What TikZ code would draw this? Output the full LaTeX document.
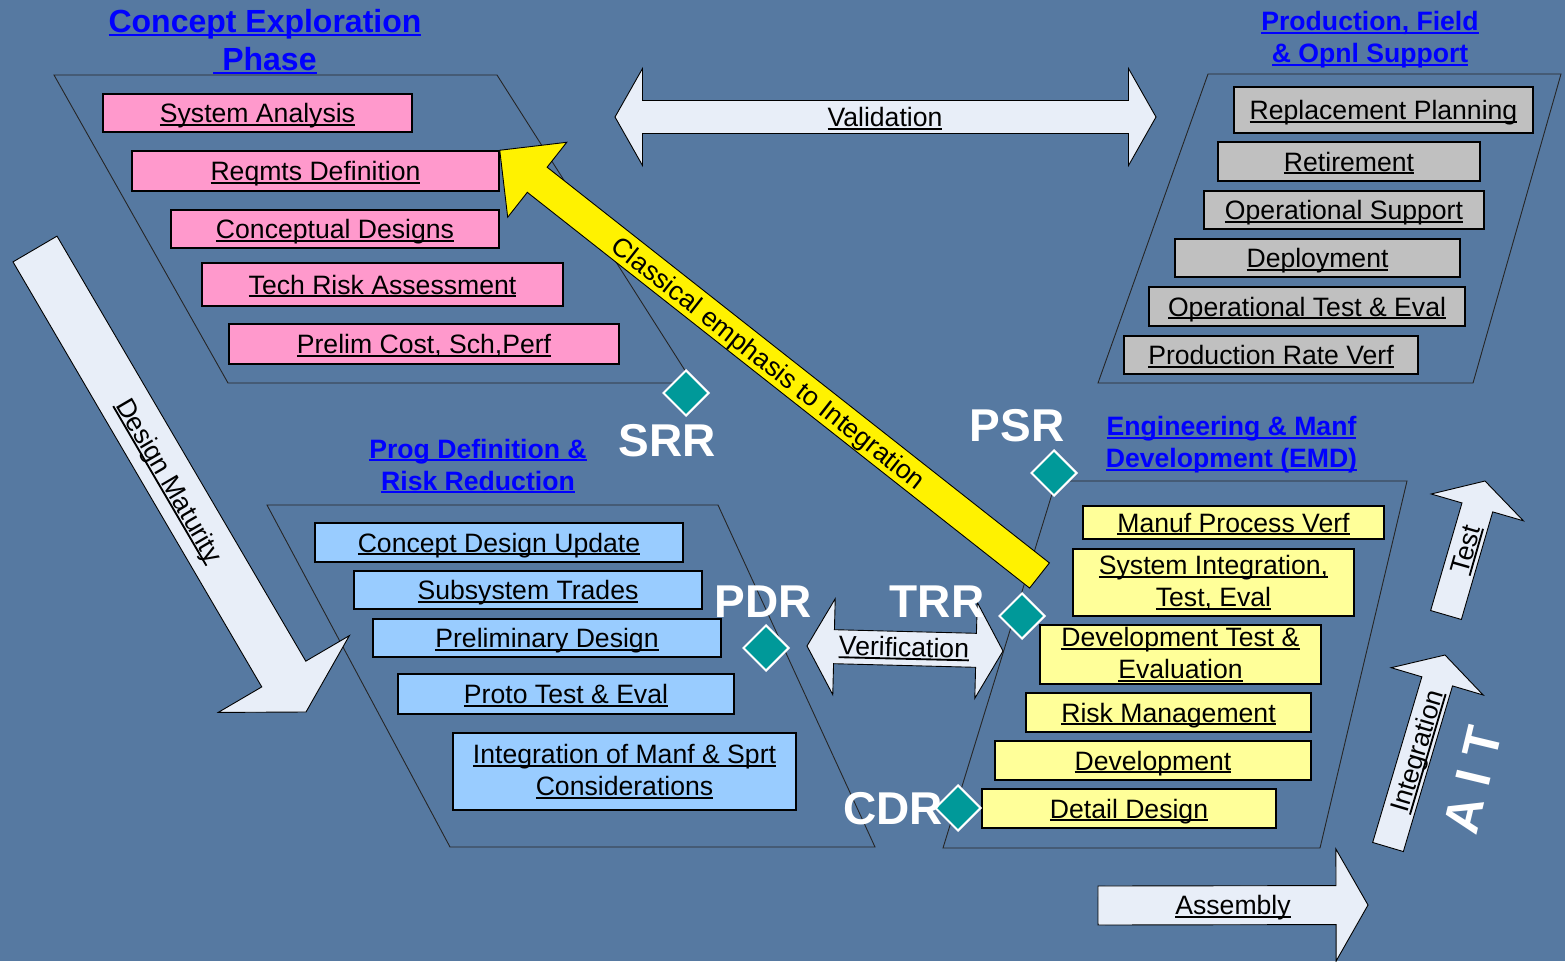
\documentclass[tikz,border=0pt]{standalone}
\usepackage{fontspec}
\setmainfont{Liberation Sans}
\usetikzlibrary{shapes.geometric,calc,positioning}

\definecolor{slidebg}{RGB}{86,121,161}
\definecolor{cepink}{RGB}{255,153,204}
\definecolor{pdblue}{RGB}{153,204,255}
\definecolor{emdyellow}{RGB}{255,255,153}
\definecolor{opsgray}{RGB}{192,192,192}
\definecolor{msteal}{RGB}{0,153,153}
\definecolor{arrowfill}{RGB}{232,238,248}
\definecolor{headblue}{RGB}{0,0,255}

\newcommand{\undl}[1]{\setbox0=\hbox{#1}\rlap{\rule[-0.12em]{\wd0}{0.07em}}\box0}

\newcommand{\blockarrow}[6][]{%
  \coordinate (bh) at ($(#3)!#6!(#2)$);
  \draw[blockarrow,#1] ($(#2)!#4!90:(#3)$) -- ($(bh)!#4!90:(#3)$) -- ($(bh)!#5!90:(#3)$) -- (#3)
    -- ($(bh)!#5!-90:(#3)$) -- ($(bh)!#4!-90:(#3)$) -- ($(#2)!#4!-90:(#3)$) -- cycle;}

\newcommand{\dblarrow}[5]{%
  \coordinate (dl) at ($(#1)!#5!(#2)$);
  \coordinate (dr) at ($(#2)!#5!(#1)$);
  \draw[blockarrow] (#1) -- ($(dl)!#4!90:(#2)$) -- ($(dl)!#3!90:(#2)$) -- ($(dr)!#3!90:(#2)$)
    -- ($(dr)!#4!90:(#2)$) -- (#2) -- ($(dr)!#4!-90:(#2)$) -- ($(dr)!#3!-90:(#2)$)
    -- ($(dl)!#3!-90:(#2)$) -- ($(dl)!#4!-90:(#2)$) -- cycle;}

\tikzset{
  phase/.style={draw=black!85, line width=0.9pt},
  task/.style={draw=black, line width=1.5pt, inner sep=0pt, align=center,
    font=\fontsize{26.6}{32}\selectfont, text height=19pt, text depth=0pt},
  twoline/.style={text height={}, text depth={}},
  cebox/.style={task, fill=cepink},
  pdbox/.style={task, fill=pdblue},
  emdbox/.style={task, fill=emdyellow},
  opsbox/.style={task, fill=opsgray},
  phasehead/.style={text=headblue, align=center, inner sep=0pt,
    font=\bfseries\fontsize{26.6}{32}\selectfont},
  milestone/.style={diamond, fill=msteal, draw=white, line width=2pt,
    minimum width=46pt, minimum height=46pt, inner sep=0pt},
  mslabel/.style={text=white, inner sep=0pt, font=\bfseries\fontsize{46}{46}\selectfont,
    text height=33pt, text depth=0pt},
  blockarrow/.style={fill=arrowfill, draw=black, line width=0.9pt},
  arrowlabel/.style={inner sep=0pt, font=\fontsize{26.6}{32}\selectfont,
    text height=19pt, text depth=0pt}
}

\begin{document}
\begin{tikzpicture}[x=1pt,y=-1pt]
\useasboundingbox (0,0) rectangle (1565,961);
\fill[slidebg] (0,0) rectangle (1565,961);

\draw[phase] (54,75) -- (497,75) -- (693,383) -- (228,383) -- cycle;
\draw[phase] (1208,74) -- (1561,74) -- (1473,383) -- (1098,383) -- cycle;
\draw[phase] (267,505) -- (718,505) -- (875,847) -- (450,847) -- cycle;
\draw[phase] (1056,481) -- (1407,481) -- (1320,848) -- (943,848) -- cycle;

\node[phasehead, font=\bfseries\fontsize{32}{38}\selectfont] (cehead) at (265,41.5)
  {\undl{Concept Exploration}\\\undl{\ Phase}};
\node[phasehead] (pfhead) at (1370,40) {\undl{Production, Field}\\\undl{\& Opnl Support}};
\node[phasehead] (pdhead) at (478,466) {\undl{Prog Definition \&}\\\undl{Risk Reduction}};
\node[phasehead] (emdhead) at (1231.5,445) {\undl{Engineering \& Manf}\\\undl{Development (EMD)}};

\node[cebox, minimum width=309pt, minimum height=38pt] (sysana) at (257.5,113) {\undl{System Analysis}};
\node[cebox, minimum width=367pt, minimum height=40pt] (reqdef) at (315.5,171) {\undl{Reqmts Definition}};
\node[cebox, minimum width=328pt, minimum height=38pt] (concdes) at (335,229) {\undl{Conceptual Designs}};
\node[cebox, minimum width=361pt, minimum height=43pt] (techrisk) at (382.5,284.5) {\undl{Tech Risk Assessment}};
\node[cebox, minimum width=390pt, minimum height=40pt] (prelim) at (424,344) {\undl{Prelim Cost, Sch,Perf}};

\node[opsbox, minimum width=299pt, minimum height=46pt] (replplan) at (1383.5,110) {\undl{Replacement Planning}};
\node[opsbox, minimum width=262pt, minimum height=39pt] (retire) at (1349,161.5) {\undl{Retirement}};
\node[opsbox, minimum width=280pt, minimum height=38pt] (opsupp) at (1344,210) {\undl{Operational Support}};
\node[opsbox, minimum width=285pt, minimum height=38pt] (deploy) at (1317.5,258) {\undl{Deployment}};
\node[opsbox, minimum width=316pt, minimum height=39pt] (opte) at (1307,306.5) {\undl{Operational Test \& Eval}};
\node[opsbox, minimum width=294pt, minimum height=38pt] (prodrate) at (1271,355) {\undl{Production Rate Verf}};

\node[pdbox, minimum width=368pt, minimum height=39pt] (cdupdate) at (499,542.5) {\undl{Concept Design Update}};
\node[pdbox, minimum width=348pt, minimum height=38pt] (subtrades) at (528,590) {\undl{Subsystem Trades}};
\node[pdbox, minimum width=348pt, minimum height=38pt] (prelimdes) at (547,638) {\undl{Preliminary Design}};
\node[pdbox, minimum width=336pt, minimum height=40pt] (prototest) at (566,694) {\undl{Proto Test \& Eval}};
\node[pdbox, twoline, minimum width=343pt, minimum height=77pt] (intmanf) at (624.5,771.5)
  {\undl{Integration of Manf \& Sprt}\\\undl{Considerations}};

\node[emdbox, minimum width=301pt, minimum height=33pt] (manufpv) at (1233.5,522.5) {\undl{Manuf Process Verf}};
\node[emdbox, twoline, minimum width=281pt, minimum height=67pt] (sysint) at (1213.5,582.5)
  {\undl{System Integration,}\\\undl{Test, Eval}};
\node[emdbox, twoline, minimum width=281pt, minimum height=59pt] (devte) at (1180.5,654.5)
  {\undl{Development Test \&}\\\undl{Evaluation}};
\node[emdbox, minimum width=285pt, minimum height=39pt] (riskmgmt) at (1168.5,712.5) {\undl{Risk Management}};
\node[emdbox, minimum width=316pt, minimum height=39pt] (develop) at (1153,760.5) {\undl{Development}};
\node[emdbox, minimum width=294pt, minimum height=39pt] (detdes) at (1129,808.5) {\undl{Detail Design}};

\coordinate (valL) at (615,117);
\coordinate (valR) at (1156,117);
\dblarrow{valL}{valR}{16.5pt}{48.5pt}{27.5pt}
\node[arrowlabel] (valtext) at (885,117) {\undl{Validation}};

\coordinate (verL) at (807,646);
\coordinate (verR) at (1003,651);
\dblarrow{verL}{verR}{17pt}{48pt}{27pt}
\node[arrowlabel, rotate=-1.4] (vertext) at (904,647) {\undl{Verification}};

\coordinate (dmtail) at (35,249);
\coordinate (dmtip) at (306,712);
\blockarrow{dmtail}{dmtip}{25.5pt}{76pt}{44pt}
\node[arrowlabel, rotate=-59.7] (dmtext) at (170,480) {\undl{Design Maturity}};

\coordinate (asmtail) at (1098,905.5);
\coordinate (asmtip) at (1368,905);
\blockarrow{asmtail}{asmtip}{19.5pt}{56pt}{32pt}
\node[arrowlabel] (asmtext) at (1233,905) {\undl{Assembly}};

\coordinate (testtail) at (1446,615);
\coordinate (testtip) at (1485,481);
\blockarrow{testtail}{testtip}{16pt}{48pt}{27.5pt}
\node[arrowlabel, rotate=74] (testtext) at (1465,549) {\undl{Test}};

\coordinate (inttail) at (1388,847);
\coordinate (inttip) at (1445,655);
\blockarrow{inttail}{inttip}{16pt}{48pt}{27.5pt}
\node[arrowlabel, rotate=73.5] (inttext) at (1416.5,751) {\undl{Integration}};

\coordinate (clstail) at (1039.5,575.5);
\blockarrow[fill=yellow]{clstail}{reqdef.north east}{16pt}{47.7pt}{47.7pt}
\node[arrowlabel, rotate=-38.15] (clstext) at (769,363) {Classical emphasis to Integration};

\node[milestone] (srr) at (686,393) {};
\node[milestone] (pdr) at (766,648) {};
\node[milestone] (trr) at (1022,616) {};
\node[milestone] (psr) at (1054,473) {};
\node[milestone] (cdr) at (958,808) {};

\node[mslabel] (srrlabel) at ($(srr)+(-18.5,47)$) {SRR};
\node[mslabel] (pdrlabel) at ($(pdr)+(-3,-47)$) {PDR};
\node[mslabel] (trrlabel) at ($(trr)+(-85,-15)$) {TRR};
\node[mslabel] (psrlabel) at ($(psr)+(-37,-48)$) {PSR};
\node[mslabel] (cdrlabel) at ($(cdr)+(-65,0)$) {CDR};

\node[mslabel, font=\bfseries\fontsize{50}{50}\selectfont, text height=36pt, rotate=76.5]
  (ait) at (1472,780) {A I T};
\end{tikzpicture}
\end{document}
